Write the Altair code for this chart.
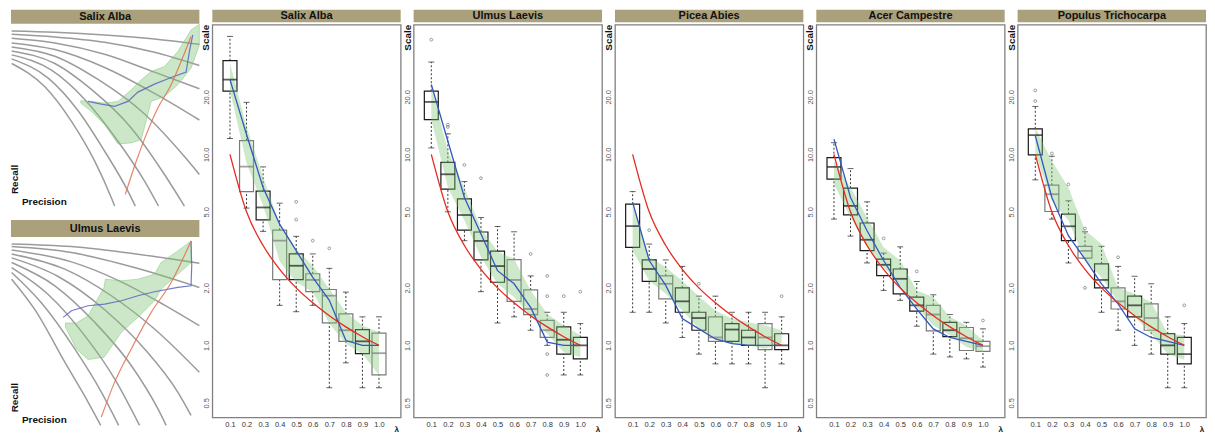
import altair as alt
import pandas as pd

FONT = "Liberation Sans"
PANEL_W = 189
BOX_H = 394
LEFT_H = 402

BAR_COLOR = "#aaa07c"
FRAME = "#808080"
BLUE = "#3556c0"
RED = "#e52a1f"
GREEN = "#7cc473"
DARK = "#1a1a1a"
GREY = "#7a7a7a"

LAMBDAS = [0.1, 0.2, 0.3, 0.4, 0.5, 0.6, 0.7, 0.8, 0.9, 1.0]
Y_TICKS = [0.5, 1.0, 2.0, 5.0, 10.0, 20.0]
RED_REF = [10.0, 5.0, 3.33, 2.5, 2.0, 1.67, 1.43, 1.25, 1.11, 1.0]

# ---------------- Salix Alba ----------------
SALIX_WLO = [12.1, 5.23, 3.95, 1.62, 1.50, 1.62, 0.60, 0.81, 0.60, 0.60]
SALIX_Q1 = [21.4, 6.38, 4.54, 2.21, 2.21, 1.91, 1.31, 1.05, 0.905, 0.70]
SALIX_MED = [24.6, 8.62, 5.27, 3.53, 2.61, 2.20, 1.82, 1.20, 1.05, 0.91]
SALIX_Q3 = [30.9, 11.8, 6.41, 4.01, 3.01, 2.37, 1.96, 1.46, 1.21, 1.16]
SALIX_WHI = [41.4, 18.7, 8.59, 5.55, 3.72, 3.01, 2.53, 1.90, 1.41, 1.41]
SALIX_BOXCOL = ["k", "g", "k", "g", "k", "g", "g", "g", "k", "g"]
SALIX_BAND_LO = [21.5, 9.0, 5.4, 2.75, 2.14, 1.90, 1.30, 1.02, 0.90, 0.70]
SALIX_BAND_HI = [30.0, 14.0, 7.6, 4.3, 3.19, 2.61, 1.97, 1.49, 1.27, 1.17]
SALIX_BLUE = [24.6, 12.7, 6.7, 4.31, 3.13, 2.27, 1.72, 1.06, 1.0, 1.0]
SALIX_OUT_LAM = [0.5, 0.5, 0.6, 0.7]
SALIX_OUT_VAL = [5.64, 4.55, 3.53, 3.22]

# ---------------- Ulmus Laevis ----------------
ULMUS_WLO = [10.8, 5.0, 3.53, 1.91, 1.31, 1.41, 1.20, 1.0, 0.70, 0.70]
ULMUS_Q1 = [15.2, 6.57, 4.01, 2.80, 2.14, 1.70, 1.45, 1.10, 0.90, 0.85]
ULMUS_MED = [18.8, 7.86, 4.81, 3.52, 2.60, 2.20, 1.55, 1.20, 1.07, 1.0]
ULMUS_Q3 = [21.4, 9.08, 5.85, 3.92, 3.11, 2.81, 1.95, 1.35, 1.25, 1.10]
ULMUS_WHI = [30.4, 12.8, 7.2, 4.67, 4.19, 3.93, 2.31, 1.49, 1.49, 1.30]
ULMUS_BOXCOL = ["k", "k", "k", "k", "k", "g", "g", "g", "k", "k"]
ULMUS_BAND_LO = [15.2, 6.7, 4.5, 2.9, 2.1, 1.79, 1.43, 1.15, 0.92, 0.87]
ULMUS_BAND_HI = [23.1, 10.4, 6.7, 4.1, 3.1, 2.83, 1.94, 1.46, 1.27, 1.13]
ULMUS_BLUE = [23.2, 11.7, 5.94, 3.83, 2.46, 2.10, 1.58, 1.04, 1.0, 1.0]
ULMUS_OUT_LAM = [0.1, 0.2, 0.2, 0.3, 0.4, 0.7, 0.8, 0.8, 0.8, 0.8, 0.9, 1.0]
ULMUS_OUT_VAL = [39.8, 14.3, 13.9, 8.8, 7.5, 3.01, 2.31, 1.81, 0.90, 0.70, 1.81, 1.91]

# ---------------- Picea Abies ----------------
PICEA_WLO = [1.49, 1.49, 1.31, 1.10, 0.90, 0.80, 0.80, 0.80, 0.60, 0.80]
PICEA_Q1 = [3.26, 2.16, 1.75, 1.49, 1.20, 1.05, 1.05, 1.0, 0.95, 0.95]
PICEA_MED = [4.21, 2.51, 2.10, 1.70, 1.39, 1.10, 1.21, 1.10, 1.10, 1.0]
PICEA_Q3 = [5.48, 2.80, 2.31, 2.0, 1.49, 1.41, 1.30, 1.20, 1.30, 1.15]
PICEA_WHI = [6.38, 3.39, 2.80, 2.59, 1.81, 1.81, 1.49, 1.49, 1.49, 1.41]
PICEA_BOXCOL = ["k", "k", "g", "k", "k", "g", "k", "k", "g", "k"]
PICEA_BAND_LO = [3.13, 2.18, 1.86, 1.52, 1.22, 1.08, 1.02, 1.0, 0.96, 1.03]
PICEA_BAND_HI = [5.7, 2.9, 2.56, 2.18, 1.80, 1.52, 1.38, 1.32, 1.27, 1.20]
PICEA_BLUE = [5.6, 2.78, 2.06, 1.38, 1.22, 1.08, 1.02, 1.0, 1.0, 1.0]
PICEA_OUT_LAM = [0.2, 0.5, 1.0]
PICEA_OUT_VAL = [4.01, 2.10, 1.81]

# ---------------- Acer Campestre ----------------
ACER_WLO = [4.58, 3.73, 2.70, 1.94, 1.72, 1.26, 0.90, 0.87, 0.85, 0.77]
ACER_Q1 = [7.41, 4.82, 3.13, 2.32, 1.86, 1.51, 1.19, 1.11, 0.94, 0.93]
ACER_MED = [8.59, 5.37, 3.57, 2.64, 2.23, 1.62, 1.45, 1.20, 1.09, 0.99]
ACER_Q3 = [9.6, 6.65, 4.37, 2.83, 2.51, 1.79, 1.62, 1.32, 1.24, 1.05]
ACER_WHI = [11.5, 8.42, 5.64, 3.04, 3.28, 2.16, 1.84, 1.45, 1.32, 1.22]
ACER_BOXCOL = ["k", "k", "k", "k", "k", "k", "g", "k", "g", "g"]
ACER_BAND_LO = [7.0, 4.67, 3.26, 2.56, 2.06, 1.59, 1.27, 1.13, 0.98, 0.92]
ACER_BAND_HI = [9.2, 6.7, 4.67, 3.26, 2.78, 1.94, 1.79, 1.41, 1.27, 1.06]
ACER_BLUE = [12.0, 5.94, 3.98, 2.78, 2.01, 1.55, 1.22, 1.10, 1.05, 1.0]
ACER_OUT_LAM = [0.4, 0.6, 1.0]
ACER_OUT_VAL = [3.63, 2.44, 1.35]

# ---------------- Populus Trichocarpa ----------------
POP_WLO = [7.35, 4.58, 2.70, 2.86, 1.49, 1.20, 1.0, 0.90, 0.60, 0.60]
POP_Q1 = [9.92, 5.02, 3.53, 2.86, 2.0, 1.55, 1.41, 1.20, 0.90, 0.80]
POP_MED = [12.6, 6.18, 4.20, 3.12, 2.20, 1.70, 1.62, 1.39, 1.0, 0.90]
POP_Q3 = [13.6, 6.89, 4.86, 3.30, 2.67, 2.0, 1.81, 1.65, 1.15, 1.10]
POP_WHI = [17.8, 9.77, 5.71, 3.93, 3.30, 2.59, 2.30, 2.10, 1.41, 1.30]
POP_BOXCOL = ["k", "g", "k", "g", "k", "g", "k", "g", "k", "k"]
POP_BAND_LO = [10.0, 5.7, 4.5, 2.78, 2.27, 1.68, 1.41, 1.15, 0.90, 0.84]
POP_BAND_HI = [13.8, 9.2, 6.7, 4.0, 3.39, 2.0, 1.86, 1.68, 1.15, 1.13]
POP_BLUE = [12.5, 5.94, 3.75, 2.83, 2.10, 1.65, 1.22, 1.10, 1.05, 1.0]
POP_OUT_LAM = [0.1, 0.1, 0.2, 0.3, 0.4, 0.4, 0.6, 1.0]
POP_OUT_VAL = [21.6, 19.0, 10.1, 6.95, 4.09, 2.0, 2.89, 1.62]

# ---------------- sketch panels (picture units) ----------------
SALIX_SK_CURVES = [
    [(20, 88), (150, 92), (300, 100), (450, 112), (585, 128)],
    [(20, 98), (150, 106), (300, 122), (450, 152), (585, 192)],
    [(20, 110), (150, 124), (300, 158), (450, 212), (585, 262)],
    [(20, 124), (150, 144), (300, 198), (450, 276), (585, 356)],
    [(20, 136), (150, 164), (280, 234), (420, 338), (540, 466), (585, 520)],
    [(20, 148), (150, 186), (260, 264), (380, 380), (480, 520), (540, 615)],
    [(20, 160), (140, 206), (240, 294), (340, 420), (420, 540), (462, 615)],
    [(20, 172), (130, 230), (220, 328), (300, 450), (370, 570), (392, 615)],
    [(20, 186), (120, 256), (200, 360), (270, 480), (320, 590), (330, 615)],
]
SALIX_SK_BAND_X = [228, 260, 300, 340, 380, 410, 440, 480, 520, 560, 585]
SALIX_SK_BAND_TOP = [298, 300, 305, 300, 265, 235, 210, 195, 150, 85, 68]
SALIX_SK_BAND_BOT = [305, 330, 370, 428, 425, 415, 300, 285, 250, 200, 130]
SALIX_SK_BLUE = [(250, 300), (290, 308), (330, 315), (370, 300), (400, 272), (450, 248),
                 (500, 228), (545, 212), (555, 150), (565, 100)]
SALIX_SK_RED = [(362, 580), (395, 480), (425, 400), (460, 320), (500, 250), (530, 180), (560, 105)]

ULMUS_SK_CURVES = [
    [(20, 84), (200, 92), (400, 115), (585, 142)],
    [(20, 92), (200, 110), (400, 158), (585, 215)],
    [(20, 102), (200, 138), (350, 198), (480, 268), (585, 330)],
    [(20, 114), (180, 160), (320, 240), (450, 340), (585, 470)],
    [(20, 126), (160, 182), (300, 282), (420, 400), (520, 530), (560, 600)],
    [(20, 140), (150, 210), (270, 320), (380, 450), (460, 580), (485, 630)],
    [(20, 155), (130, 236), (240, 360), (330, 490), (405, 630)],
    [(20, 170), (110, 262), (210, 400), (290, 530), (342, 630)],
    [(20, 190), (90, 282), (180, 440), (250, 560), (288, 630)],
]
ULMUS_SK_BAND_X = [182, 215, 250, 298, 302, 350, 400, 450, 470, 520, 560]
ULMUS_SK_BAND_TOP = [322, 322, 300, 215, 190, 195, 190, 175, 140, 105, 75]
ULMUS_SK_BAND_BOT = [335, 400, 432, 425, 420, 350, 305, 255, 220, 175, 140]
ULMUS_SK_BLUE = [(175, 305), (200, 285), (250, 270), (300, 265), (350, 255), (400, 240),
                 (450, 228), (520, 215), (560, 210), (562, 150), (560, 75)]
ULMUS_SK_RED = [(290, 605), (330, 500), (380, 400), (440, 290), (500, 200), (560, 75)]

# the second sketch sits below the first: its picture rows are shifted by this many units
ULMUS_SK_SHIFT = 645


def title_bar(name, top, bottom, w):
    d = alt.Data(values=[{"t": name}])
    rect = alt.Chart(d).mark_rect(color=BAR_COLOR).encode(
        x=alt.value(0), x2=alt.value(w), y=alt.value(top), y2=alt.value(bottom))
    txt = alt.Chart(d).mark_text(font=FONT, fontSize=11, fontWeight="bold", color="#111",
                                 baseline="middle", align="center").encode(
        x=alt.value(w / 2), y=alt.value((top + bottom) / 2 + 0.5), text="t:N")
    return [rect, txt]


XS = alt.Scale(domain=[0.0234, 1.101], nice=False, zero=False)
YS = alt.Scale(type="log", domain=[0.42, 47.7], nice=False)
XAX = alt.Axis(values=LAMBDAS, format=".1f", ticks=False, domain=False, grid=False, title=None,
               labelFont=FONT, labelFontSize=7.5, labelColor="#333", labelPadding=3,
               labelFlush=False, labelOverlap=False)
YAX = alt.Axis(values=Y_TICKS, format=".1f", labelAngle=270, ticks=False, domain=False, grid=False,
               title=None, labelFont=FONT, labelFontSize=7.5, labelColor="#555", labelPadding=2,
               labelFlush=False, labelOverlap=False)


def box_panel(name, wlo, q1, med, q3, whi, boxcol, blo, bhi, blue, out_lam, out_val):
    df = pd.DataFrame({
        "lam": LAMBDAS, "wlo": wlo, "q1": q1, "med": med, "q3": q3, "whi": whi,
        "col": [DARK if c == "k" else GREY for c in boxcol],
        "blo": blo, "bhi": bhi, "blue": blue, "red": RED_REF,
    })
    odf = pd.DataFrame({"lam": out_lam, "v": out_val})
    base = alt.Chart(df)
    X = alt.X("lam:Q", scale=XS, axis=XAX)

    def Y(f):
        return alt.Y(f, scale=YS, axis=YAX)

    w_lo = base.mark_rule(strokeDash=[2, 2], color="#222", strokeWidth=0.9).encode(
        x=X, y=Y("wlo:Q"), y2="q1:Q")
    w_hi = base.mark_rule(strokeDash=[2, 2], color="#222", strokeWidth=0.9).encode(
        x=X, y=Y("q3:Q"), y2="whi:Q")
    cap_lo = base.mark_tick(orient="horizontal", size=6, thickness=1, color="#222").encode(
        x=X, y=Y("wlo:Q"))
    cap_hi = base.mark_tick(orient="horizontal", size=6, thickness=1, color="#222").encode(
        x=X, y=Y("whi:Q"))
    box = base.mark_bar(size=14, fill="white", strokeWidth=1.2).encode(
        x=X, y=Y("q1:Q"), y2="q3:Q", stroke=alt.Color("col:N", scale=None))
    band = base.mark_area(color=GREEN, opacity=0.38).encode(
        x=X, y=Y("blo:Q"), y2="bhi:Q")
    medl = base.mark_tick(orient="horizontal", size=14, thickness=1.8).encode(
        x=X, y=Y("med:Q"), color=alt.Color("col:N", scale=None))
    bl = base.mark_line(color=BLUE, strokeWidth=1.3).encode(x=X, y=Y("blue:Q"))
    rl = base.mark_line(color=RED, strokeWidth=1.3, interpolate="monotone").encode(x=X, y=Y("red:Q"))
    outs = alt.Chart(odf).mark_point(shape="circle", size=8, filled=False, color="#555",
                                     strokeWidth=0.8).encode(x=X, y=Y("v:Q"))
    one = alt.Data(values=[{"a": 1}])
    scale_t = alt.Chart(one).mark_text(font=FONT, fontSize=10, fontWeight="bold", angle=270,
                                       align="right", baseline="middle", color="#111").encode(
        x=alt.value(-6), y=alt.value(0), text=alt.value("Scale"))
    lam_t = alt.Chart(one).mark_text(font=FONT, fontSize=8, fontWeight="bold", align="center",
                                     baseline="middle", color="#111").encode(
        x=alt.value(PANEL_W - 4), y=alt.value(BOX_H + 13), text=alt.value("λ"))
    layers = [w_lo, w_hi, cap_lo, cap_hi, box, band, medl, bl, rl, outs, scale_t, lam_t]
    layers += title_bar(name, -15, -2.5, PANEL_W)
    return alt.layer(*layers).properties(
        width=PANEL_W, height=BOX_H,
        view=alt.ViewBackground(stroke=FRAME, strokeWidth=1.3))


SKX = alt.Scale(domain=[18, 585], nice=False, zero=False)
SKY = alt.Scale(domain=[69, 69 + 3 * LEFT_H], nice=False, zero=False, reverse=True)


def sketch_layers(curves, bx, btop, bbot, blue, red, shift):
    rows = []
    for ci, c in enumerate(curves):
        for oi, (x, y) in enumerate(c):
            rows.append({"cid": ci, "ord": oi, "x": x, "y": y})
    cdf = pd.DataFrame(rows)
    bdf = pd.DataFrame({"x": bx, "top": btop, "bot": bbot})
    bldf = pd.DataFrame({"ord": list(range(len(blue))), "x": [p[0] for p in blue],
                         "y": [p[1] for p in blue]})
    rdf = pd.DataFrame({"ord": list(range(len(red))), "x": [p[0] for p in red],
                        "y": [p[1] for p in red]})
    X = alt.X("x:Q", scale=SKX, axis=None)
    sh = f"datum.y + {shift}"

    curves_l = alt.Chart(cdf).transform_calculate(yy=sh).mark_line(
        color="#8a8a8a", strokeWidth=1.5, opacity=0.85, interpolate="monotone").encode(
        x=X, y=alt.Y("yy:Q", scale=SKY, axis=None), detail="cid:N", order="ord:Q")
    band = alt.Chart(bdf).transform_calculate(
        tt=f"datum.top + {shift}", bb=f"datum.bot + {shift}").mark_area(
        fill=GREEN, fillOpacity=0.4, stroke=GREEN, strokeOpacity=0.6, strokeWidth=0.8).encode(
        x=X, y=alt.Y("tt:Q", scale=SKY, axis=None), y2="bb:Q")
    bl = alt.Chart(bldf).transform_calculate(yy=sh).mark_line(
        color="#5a64c0", strokeWidth=1.2, opacity=0.85).encode(
        x=X, y=alt.Y("yy:Q", scale=SKY, axis=None), order="ord:Q")
    rl = alt.Chart(rdf).transform_calculate(yy=sh).mark_line(
        color="#e07050", strokeWidth=1.2, opacity=0.85, interpolate="monotone").encode(
        x=X, y=alt.Y("yy:Q", scale=SKY, axis=None), order="ord:Q")
    return [curves_l, band, bl, rl]


def labels_at(recall_bottom, precision_y):
    one = alt.Data(values=[{"a": 1}])
    rec = alt.Chart(one).mark_text(font=FONT, fontSize=10, fontWeight="bold", angle=270,
                                   align="left", baseline="middle", color="#111").encode(
        x=alt.value(4), y=alt.value(recall_bottom), text=alt.value("Recall"))
    pre = alt.Chart(one).mark_text(font=FONT, fontSize=10, fontWeight="bold", align="left",
                                   baseline="middle", color="#111").encode(
        x=alt.value(11), y=alt.value(precision_y), text=alt.value("Precision"))
    return [rec, pre]


left_layers = []
left_layers += sketch_layers(SALIX_SK_CURVES, SALIX_SK_BAND_X, SALIX_SK_BAND_TOP,
                             SALIX_SK_BAND_BOT, SALIX_SK_BLUE, SALIX_SK_RED, 0)
left_layers += sketch_layers(ULMUS_SK_CURVES, ULMUS_SK_BAND_X, ULMUS_SK_BAND_TOP,
                             ULMUS_SK_BAND_BOT, ULMUS_SK_BLUE, ULMUS_SK_RED, ULMUS_SK_SHIFT)
left_layers += labels_at(170, 178)
left_layers += labels_at(389, 397)
left_layers += title_bar("Salix Alba", -15, -1, PANEL_W)
left_layers += title_bar("Ulmus Laevis", 196, 213, PANEL_W)

left = alt.layer(*left_layers).properties(
    width=PANEL_W, height=LEFT_H,
    view=alt.ViewBackground(stroke="transparent", strokeWidth=0))

panels = [
    box_panel("Salix Alba", SALIX_WLO, SALIX_Q1, SALIX_MED, SALIX_Q3, SALIX_WHI, SALIX_BOXCOL,
              SALIX_BAND_LO, SALIX_BAND_HI, SALIX_BLUE, SALIX_OUT_LAM, SALIX_OUT_VAL),
    box_panel("Ulmus Laevis", ULMUS_WLO, ULMUS_Q1, ULMUS_MED, ULMUS_Q3, ULMUS_WHI, ULMUS_BOXCOL,
              ULMUS_BAND_LO, ULMUS_BAND_HI, ULMUS_BLUE, ULMUS_OUT_LAM, ULMUS_OUT_VAL),
    box_panel("Picea Abies", PICEA_WLO, PICEA_Q1, PICEA_MED, PICEA_Q3, PICEA_WHI, PICEA_BOXCOL,
              PICEA_BAND_LO, PICEA_BAND_HI, PICEA_BLUE, PICEA_OUT_LAM, PICEA_OUT_VAL),
    box_panel("Acer Campestre", ACER_WLO, ACER_Q1, ACER_MED, ACER_Q3, ACER_WHI, ACER_BOXCOL,
              ACER_BAND_LO, ACER_BAND_HI, ACER_BLUE, ACER_OUT_LAM, ACER_OUT_VAL),
    box_panel("Populus Trichocarpa", POP_WLO, POP_Q1, POP_MED, POP_Q3, POP_WHI, POP_BOXCOL,
              POP_BAND_LO, POP_BAND_HI, POP_BLUE, POP_OUT_LAM, POP_OUT_VAL),
]

chart = alt.hconcat(left, *panels, spacing=13, bounds="flush").properties(
    padding=0, background="white")

chart.save("out.html", embed_options={"renderer": "svg", "actions": False})
